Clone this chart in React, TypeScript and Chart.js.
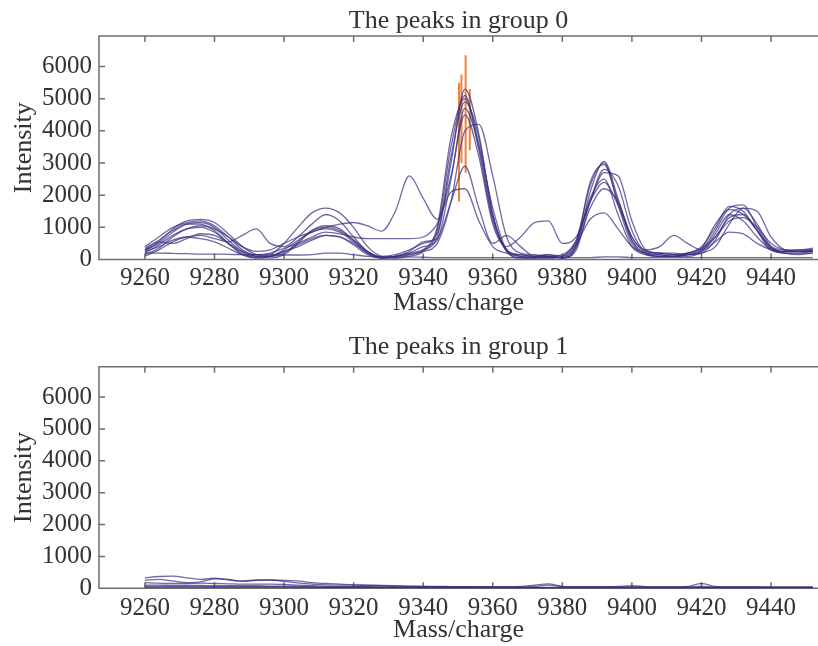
import React, { useEffect, useRef } from 'react';
import { Chart, registerables } from 'chart.js';

Chart.register(...registerables);

// ---------- data ----------
const mz = [
  9260, 9264, 9268, 9272, 9276, 9280, 9284, 9288, 9292, 9296,
  9300, 9304, 9308, 9312, 9316, 9320, 9324, 9328, 9332, 9336,
  9340, 9344, 9348, 9352, 9356, 9360, 9364, 9368, 9372, 9376,
  9380, 9384, 9388, 9392, 9396, 9400, 9404, 9408, 9412, 9416,
  9420, 9424, 9428, 9432, 9436, 9440, 9444, 9448, 9452,
];

const xTickValues = [9260, 9280, 9300, 9320, 9340, 9360, 9380, 9400, 9420, 9440];
const yTickValues = [0, 1000, 2000, 3000, 4000, 5000, 6000];

// group 0 spectra
const g0s1 = [400,700,1000,1150,1200,1050,700,300,100,50,
  150,500,900,1050,950,600,250,80,100,200,
  300,700,3000,5300,3900,1400,250,50,50,50,
  100,600,2300,3000,1700,500,200,150,100,150,
  300,900,1600,1700,1000,350,250,250,300];
const g0s2 = [200,450,750,950,1050,950,700,400,250,300,
  500,700,850,1000,1100,1150,1050,880,1500,2600,
  1900,1250,2600,4500,3200,1100,400,700,1150,1200,
  500,700,1800,2400,1700,700,300,400,750,500,
  300,700,1300,1400,900,400,300,300,350];
const g0s3 = [300,500,850,1100,1150,1000,600,250,100,150,
  500,1000,1450,1600,1450,1000,400,100,50,100,
  250,900,3500,5100,3400,1200,250,50,50,100,
  50,400,2100,3050,1900,600,150,100,100,150,
  200,600,1400,1600,1100,400,200,150,200];
const g0s4 = [100,300,550,700,750,650,550,750,950,500,
  400,700,1100,1400,1200,700,250,100,150,300,
  500,800,3200,4900,3800,1400,300,150,100,150,
  50,300,1800,2800,2300,900,250,200,150,200,
  400,1000,1650,1500,900,300,250,300,300];
const g0s5 = [250,400,600,700,650,550,350,150,100,100,
  250,450,650,750,700,500,200,50,100,200,
  400,600,2500,4700,3500,1300,300,100,50,50,
  100,500,1250,1450,950,400,200,150,100,150,
  250,550,850,800,500,300,200,200,250];
const g0s6 = [350,600,900,1100,1100,900,500,200,50,100,
  300,600,850,950,850,550,200,50,100,150,
  250,500,1800,4000,4200,2600,700,200,150,100,
  150,600,1800,2700,2600,1200,300,200,200,150,
  200,400,1100,1600,1500,700,300,250,250];
const g0s7 = [150,350,700,950,1000,850,500,150,50,100,
  250,400,600,750,700,450,150,50,100,250,
  550,650,1800,2900,1600,500,750,400,100,100,
  50,500,1900,2500,1400,400,150,100,100,100,
  250,800,1400,1200,700,300,200,200,200];
const g0s8 = [300,550,500,650,800,750,500,250,150,200,
  350,500,700,850,800,700,650,650,650,650,
  700,1100,2100,2200,1200,400,200,150,100,150,
  100,400,1600,2200,1800,700,250,200,150,200,
  350,700,1200,1300,1000,500,300,250,250];
const g0s9 = [200,200,190,180,170,170,160,150,150,150,
  140,140,150,200,200,150,100,80,80,80,
  70,60,60,60,60,60,60,60,60,60,
  60,60,60,80,80,60,60,60,60,60,
  60,60,60,60,60,60,60,60,60];
const g0s10 = [250,550,950,1200,1250,1150,800,400,150,100,
  200,550,900,1000,900,600,250,50,50,150,
  300,1000,3800,5000,3600,1600,300,100,100,100,
  50,450,2400,2950,1800,600,200,100,100,200,
  350,1100,1550,1400,900,350,250,250,300];

// group 0 detected peaks (orange vertical marks)
const g0PeakMz = [9350.3, 9351.0, 9352.2, 9353.4];
const g0PeakLow = [1800, 3000, 2700, 3400];
const g0PeakHigh = [5500, 5750, 6350, 5300];

// group 1 spectra
const g1s1 = [330,370,380,330,280,320,260,230,260,260,
  220,170,130,110,100,100,90,80,70,60,
  60,50,50,50,40,40,40,40,60,100,
  50,40,40,40,40,40,40,40,40,40,
  60,40,40,40,40,30,30,30,30];
const g1s2 = [250,280,230,180,200,300,280,220,250,260,
  250,230,180,150,130,110,100,90,80,70,
  60,60,55,50,50,50,50,60,100,140,
  60,50,50,50,60,80,50,40,40,60,
  150,60,40,40,40,40,40,40,40];
const g1s3 = [180,160,150,150,160,150,140,130,130,130,
  120,100,80,60,50,50,50,40,40,40,
  40,40,30,30,30,30,30,30,30,30,
  30,30,30,30,30,30,30,30,30,30,
  30,30,30,30,30,30,30,30,30];
const g1s4 = [100,100,90,90,90,80,80,80,80,70,
  70,60,50,40,40,40,40,30,30,30,
  30,30,30,30,30,20,20,20,20,20,
  20,20,20,20,20,20,20,20,20,20,
  20,20,20,20,20,20,20,20,20];
const g1s5 = [60,60,60,60,60,50,50,50,50,50,
  50,40,40,30,30,30,30,20,20,20,
  20,20,20,20,20,20,20,20,20,20,
  20,20,20,20,20,20,20,20,20,20,
  20,20,20,20,20,20,20,20,20];
const g1s6 = [30,30,30,30,30,30,30,30,30,30,
  20,20,20,20,20,20,20,20,20,20,
  10,10,10,10,10,10,10,10,10,10,
  10,10,10,10,10,10,10,10,10,10,
  10,10,10,10,10,10,10,10,10];

const g1PeakMz = [9352.2];
const g1PeakLow = [0];
const g1PeakHigh = [60];

// ---------- style ----------
const FONT = "'Liberation Serif', 'Times New Roman', serif";
const TEXT = '#333333';
const AXIS = '#6e6e6e';
const LINE = 'rgba(56, 48, 128, 0.72)';
const ORANGE = 'rgba(240, 118, 40, 0.92)';
const X_MIN = 9246.8;
const X_MAX = 9453.5;
const Y_MAX = 6950;

type Spec = {
  title: string;
  series: number[][];
  peakMz: number[];
  peakLow: number[];
  peakHigh: number[];
  top: number;
  height: number;
  areaTop: number;
  areaBottom: number;
  titleY: number;
  tickPad: number;
  xTitlePad: number;
};

const specs: Spec[] = [
  {
    title: 'The peaks in group 0',
    series: [g0s9, g0s1, g0s2, g0s3, g0s4, g0s5, g0s6, g0s7, g0s8, g0s10],
    peakMz: g0PeakMz, peakLow: g0PeakLow, peakHigh: g0PeakHigh,
    top: 0, height: 323, areaTop: 36, areaBottom: 259.5, titleY: 21, tickPad: 4, xTitlePad: 4.4,
  },
  {
    title: 'The peaks in group 1',
    series: [g1s1, g1s2, g1s3, g1s4, g1s5, g1s6],
    peakMz: g1PeakMz, peakLow: g1PeakLow, peakHigh: g1PeakHigh,
    top: 323, height: 323, areaTop: 43.7, areaBottom: 265.3, titleY: 24.5, tickPad: 5, xTitlePad: 0,
  },
];

function Panel({ spec }: { spec: Spec }) {
  const ref = useRef<HTMLCanvasElement>(null);
  useEffect(() => {
    const canvas = ref.current;
    if (!canvas) return;

    const lineSets = spec.series.map((vals) => ({
      type: 'line' as const,
      data: mz.map((x, i) => ({ x, y: vals[i] })),
      borderColor: LINE,
      borderWidth: 1.3,
      pointRadius: 0,
      cubicInterpolationMode: 'monotone' as const,
      fill: false,
    }));
    const peakData: { x: number; y: number | null }[] = [];
    spec.peakMz.forEach((x, i) => {
      peakData.push({ x, y: spec.peakLow[i] });
      peakData.push({ x, y: spec.peakHigh[i] });
      peakData.push({ x, y: null });
    });
    const peakSet = {
      type: 'line' as const,
      data: peakData,
      borderColor: ORANGE,
      borderWidth: 2,
      pointRadius: 0,
      spanGaps: false,
      fill: false,
    };

    const framePlugin = {
      id: 'frame',
      beforeDatasetsDraw(chart: any) {
        const { ctx, chartArea: a, scales } = chart;
        ctx.save();
        ctx.strokeStyle = AXIS;
        ctx.lineWidth = 1.5;
        ctx.beginPath();
        ctx.moveTo(a.right, a.top);
        ctx.lineTo(a.left, a.top);
        ctx.lineTo(a.left, a.bottom);
        ctx.lineTo(a.right, a.bottom);
        for (const v of xTickValues) {
          const px = scales.x.getPixelForValue(v);
          ctx.moveTo(px, a.top);
          ctx.lineTo(px, a.top + 6);
          ctx.moveTo(px, a.bottom);
          ctx.lineTo(px, a.bottom - 6);
        }
        for (const v of yTickValues) {
          const py = scales.y.getPixelForValue(v);
          ctx.moveTo(a.left, py);
          ctx.lineTo(a.left + 6, py);
        }
        ctx.stroke();
        ctx.restore();
      },
      afterDraw(chart: any) {
        const { ctx, chartArea: a } = chart;
        ctx.save();
        ctx.fillStyle = TEXT;
        ctx.font = `26px ${FONT}`;
        ctx.textAlign = 'center';
        ctx.textBaseline = 'middle';
        ctx.fillText(spec.title, (a.left + a.right) / 2, spec.titleY);
        ctx.restore();
      },
    };

    const chart = new Chart(canvas, {
      type: 'line',
      data: { datasets: [...lineSets, peakSet] as any },
      options: {
        responsive: false,
        animation: false,
        events: [],
        layout: { padding: { top: spec.areaTop, left: 0, right: 0, bottom: 0 } },
        plugins: {
          legend: { display: false },
          tooltip: { enabled: false },
          title: { display: false },
        },
        scales: {
          x: {
            type: 'linear',
            min: X_MIN,
            max: X_MAX,
            afterBuildTicks: (s: any) => {
              s.ticks = xTickValues.map((v) => ({ value: v }));
            },
            afterFit: (s: any) => {
              s.height = spec.height - spec.areaBottom;
            },
            grid: { display: false, drawTicks: false },
            border: { display: false },
            ticks: {
              autoSkip: false,
              maxRotation: 0,
              padding: spec.tickPad,
              color: TEXT,
              font: { family: FONT, size: 25 },
              callback: (v: any) => String(v),
            },
            title: {
              display: true,
              text: 'Mass/charge',
              color: TEXT,
              font: { family: FONT, size: 26 },
              padding: { top: 0, bottom: spec.xTitlePad },
            },
          },
          y: {
            type: 'linear',
            min: 0,
            max: Y_MAX,
            afterBuildTicks: (s: any) => {
              s.ticks = yTickValues.map((v) => ({ value: v }));
            },
            afterFit: (s: any) => {
              s.width = 99;
            },
            grid: { display: false, drawTicks: false },
            border: { display: false },
            ticks: {
              autoSkip: false,
              padding: 7,
              color: TEXT,
              font: { family: FONT, size: 25 },
              callback: (v: any) => String(v),
            },
            title: {
              display: true,
              text: 'Intensity',
              color: TEXT,
              font: { family: FONT, size: 26 },
              padding: { top: 9, bottom: 0 },
            },
          },
        },
      },
      plugins: [framePlugin],
    } as any);
    return () => chart.destroy();
  }, [spec]);

  return (
    <canvas
      ref={ref}
      width={818}
      height={spec.height}
      style={{ position: 'absolute', left: 0, top: spec.top, width: 818, height: spec.height }}
    />
  );
}

export default function App() {
  return (
    <div
      style={{
        position: 'absolute',
        left: 0,
        top: 0,
        width: 818,
        height: 646,
        overflow: 'hidden',
        background: '#ffffff',
      }}
    >
      {specs.map((s, i) => (
        <Panel key={i} spec={s} />
      ))}
    </div>
  );
}
